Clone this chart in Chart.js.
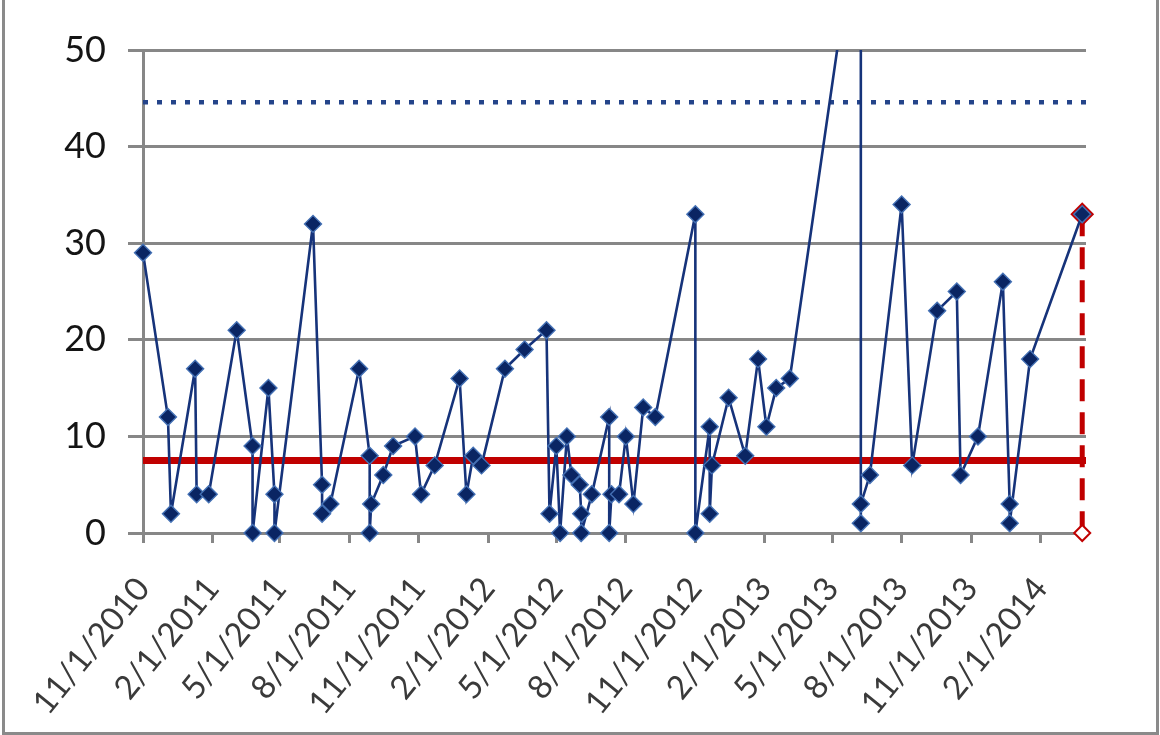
<!DOCTYPE html>
<html>
<head>
<meta charset="utf-8">
<script src="https://cdn.jsdelivr.net/npm/chart.js@4.4.1/dist/chart.umd.min.js"></script>
<style>
  html, body { margin: 0; padding: 0; background: #fff; }
  #wrap { position: relative; width: 1160px; height: 735px; }
  #frame { position: absolute; left: 2px; top: -4px; width: 1151px; height: 733px;
           border: 3px solid #8a8a8a; pointer-events: none; }
</style>
</head>
<body>
<div id="wrap">
  <canvas id="chart" width="1160" height="735"></canvas>
  <div id="frame"></div>
</div>
<script>
// event dates and the value plotted for each one
const eventDates = [
  '11/1/2010', '12/4/2010', '12/8/2010', '1/9/2011', '1/11/2011', '1/27/2011',
  '3/5/2011', '3/26/2011', '3/26/2011', '4/16/2011', '4/24/2011', '4/24/2011',
  '6/14/2011', '6/26/2011', '6/26/2011', '7/7/2011', '8/14/2011', '8/28/2011',
  '8/28/2011', '8/30/2011', '9/15/2011', '9/28/2011', '10/27/2011', '11/4/2011',
  '11/22/2011', '12/25/2011', '1/3/2012', '1/12/2012', '1/23/2012', '2/23/2012',
  '3/20/2012', '4/18/2012', '4/22/2012', '5/1/2012', '5/6/2012', '5/15/2012',
  '5/21/2012', '6/1/2012', '6/3/2012', '6/3/2012', '6/17/2012', '7/10/2012',
  '7/10/2012', '7/13/2012', '7/23/2012', '8/1/2012', '8/11/2012', '8/24/2012',
  '9/9/2012', '11/1/2012', '11/1/2012', '11/20/2012', '11/20/2012', '11/23/2012',
  '12/15/2012', '1/6/2013', '1/23/2013', '2/3/2013', '2/16/2013', '3/6/2013',
  '6/8/2013', '6/8/2013', '6/8/2013', '6/20/2013', '8/1/2013', '8/15/2013',
  '9/17/2013', '10/13/2013', '10/18/2013', '11/10/2013', '12/13/2013', '12/22/2013',
  '12/22/2013', '1/18/2014', '3/28/2014'
];
const values = [
  29, 12, 2, 17, 4, 4,
  21, 9, 0, 15, 4, 0,
  32, 5, 2, 3, 17, 8,
  0, 3, 6, 9, 10, 4,
  7, 16, 4, 8, 7, 17,
  19, 21, 2, 9, 0, 10,
  6, 5, 2, 0, 4, 12,
  0, 4, 4, 10, 3, 13,
  12, 33, 0, 11, 2, 7,
  14, 8, 18, 11, 15, 16,
  67, 1, 3, 6, 34, 7,
  23, 25, 6, 10, 26, 3,
  1, 18, 33
];
const tickLabels = [
  '11/1/2010', '2/1/2011', '5/1/2011', '8/1/2011', '11/1/2011', '2/1/2012',
  '5/1/2012', '8/1/2012', '11/1/2012', '2/1/2013', '5/1/2013', '8/1/2013',
  '11/1/2013', '2/1/2014'
];
const yTicks = [0, 10, 20, 30, 40, 50];
const axisEnd = '4/2/2014';
const centerLine = 7.5;
const upperLimit = 44.6;

function dayOf(s) {
  const [m, d, y] = s.split('/').map(Number);
  return Math.round((Date.UTC(y, m - 1, d) - Date.UTC(2010, 10, 1)) / 86400000);
}

const points = eventDates.map((d, i) => ({ x: dayOf(d), y: values[i] }));
const last = points[points.length - 1];
const xMin = dayOf(tickLabels[0]);
const xMax = dayOf(axisEnd);

const GRID = '#878787';
const NAVY = '#0a2563';
// keep the line clipped at the top, let markers spill past the other edges
const CLIP = { left: 20, right: 20, top: 0, bottom: 20 };

new Chart(document.getElementById('chart'), {
  type: 'line',
  data: {
    datasets: [
      {
        data: points,
        borderColor: '#16337a',
        borderWidth: 2.6,
        pointStyle: 'rectRot',
        pointRadius: 8.5,
        pointBackgroundColor: NAVY,
        pointBorderColor: '#4471b5',
        pointBorderWidth: 1.4,
        tension: 0,
        clip: CLIP,
        order: 1
      },
      {
        data: [{ x: last.x, y: last.y }, { x: last.x, y: 0 }],
        borderColor: '#c00000',
        borderWidth: 5,
        borderDash: [22, 11],
        pointStyle: 'rectRot',
        pointRadius: [10.5, 8],
        pointBackgroundColor: ['#c00000', '#ffffff'],
        pointBorderColor: '#c00000',
        pointBorderWidth: 2,
        clip: CLIP,
        order: 2
      },
      {
        data: [{ x: xMin, y: centerLine }, { x: xMax, y: centerLine }],
        borderColor: '#c00000',
        borderWidth: 7,
        pointRadius: 0,
        order: 3
      },
      {
        data: [{ x: xMin, y: upperLimit }, { x: xMax, y: upperLimit }],
        borderColor: '#24448a',
        borderWidth: 4.5,
        borderDash: [5, 9],
        borderCapStyle: 'butt',
        pointRadius: 0,
        order: 4
      }
    ]
  },
  options: {
    responsive: false,
    animation: false,
    devicePixelRatio: 1,
    layout: { padding: { top: 50, right: 74, left: 0, bottom: 0 } },
    plugins: { legend: { display: false }, tooltip: { enabled: false } },
    scales: {
      x: {
        type: 'linear',
        min: xMin,
        max: xMax,
        afterBuildTicks: (s) => { s.ticks = tickLabels.map(l => ({ value: dayOf(l) })); },
        afterFit: (s) => { s.height = 202; },
        ticks: {
          autoSkip: false,
          minRotation: 51,
          maxRotation: 51,
          padding: 27,
          color: '#3a3a3a',
          font: { family: 'Lato, "Liberation Sans", sans-serif', size: 33 },
          callback: (v, i) => tickLabels[i]
        },
        grid: { drawOnChartArea: false, drawTicks: true, tickLength: 10, color: GRID, lineWidth: 3 },
        border: { color: GRID, width: 3 }
      },
      y: {
        min: 0,
        max: 50,
        afterBuildTicks: (s) => { s.ticks = yTicks.map(v => ({ value: v })); },
        afterFit: (s) => { s.width = 143; },
        ticks: {
          padding: 22,
          color: '#141414',
          font: { family: 'Lato, "Liberation Sans", sans-serif', size: 36 }
        },
        grid: { color: GRID, lineWidth: 3, tickLength: 15 },
        border: { color: GRID, width: 3 }
      }
    }
  }
});
</script>
</body>
</html>
